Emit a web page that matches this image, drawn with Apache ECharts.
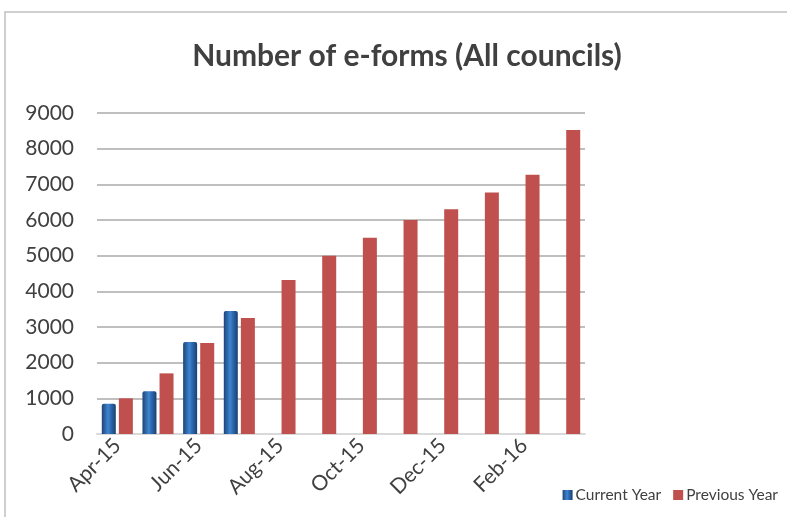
<!DOCTYPE html>
<html>
<head>
<meta charset="utf-8">
<script src="https://cdn.jsdelivr.net/npm/echarts@6/dist/echarts.min.js"></script>
<style>html,body{margin:0;padding:0;background:#fff}#c{width:787px;height:517px}</style>
</head>
<body>
<div id="c"></div>
<script>
const categories = ['Apr-15','May-15','Jun-15','Jul-15','Aug-15','Sep-15','Oct-15','Nov-15','Dec-15','Jan-16','Feb-16','Mar-16'];
const currentYear = [850, 1200, 2580, 3450, null, null, null, null, null, null, null, null];
const previousYear = [1000, 1700, 2550, 3250, 4320, 5000, 5500, 6000, 6300, 6770, 7270, 8520];
const yTicks = [0, 1000, 2000, 3000, 4000, 5000, 6000, 7000, 8000, 9000];

const FONT = 'Lato';
const chart = echarts.init(document.getElementById('c'));
chart.setOption({
  animation: false,
  textStyle: { fontFamily: FONT },
  title: {
    text: 'Number of e-forms (All councils)',
    left: 402, textAlign: 'center', top: 36,
    textStyle: { fontFamily: FONT, fontWeight: 'bold', fontSize: 30, color: '#404040' }
  },
  graphic: [{
    type: 'polyline', silent: true,
    shape: { points: [[5, 600], [5, 12], [900, 12]] },
    style: { stroke: '#c0c0c0', lineWidth: 1.5, fill: null }
  }],
  legend: {
    right: 4, top: 482, itemWidth: 10, itemHeight: 10, itemGap: 12,
    textStyle: { fontFamily: FONT, fontSize: 15.5, color: '#404040', padding: [0, 0, 0, -2] },
    data: [
      { name: 'Current Year', icon: 'rect' },
      { name: 'Previous Year', icon: 'rect' }
    ]
  },
  grid: { left: 97, right: 202, top: 113, bottom: 83 },
  xAxis: {
    type: 'category', data: categories,
    axisLine: { lineStyle: { color: '#d9d9d9', width: 2 } },
    axisTick: { show: false },
    axisLabel: { interval: 1, rotate: 45, fontSize: 21, color: '#404040', fontFamily: FONT, margin: 8 }
  },
  yAxis: {
    type: 'value', min: yTicks[0], max: yTicks[yTicks.length - 1], interval: 1000,
    axisLine: { show: false }, axisTick: { show: false },
    axisLabel: { fontSize: 21, color: '#404040', fontFamily: FONT, margin: 23, formatter: v => String(v) },
    splitLine: { lineStyle: { color: '#bfbfbf', width: 2 } }
  },
  series: [
    {
      name: 'Current Year', type: 'bar', data: currentYear, barWidth: 14, barGap: '22%',
      itemStyle: {
        color: new echarts.graphic.LinearGradient(0, 0, 1, 0, [
          { offset: 0, color: '#1d4478' },
          { offset: 0.45, color: '#3f86d0' },
          { offset: 0.6, color: '#2f6fb8' },
          { offset: 1, color: '#1a3f70' }
        ]),
        borderRadius: [2, 2, 0, 0]
      }
    },
    {
      name: 'Previous Year', type: 'bar', data: previousYear, barWidth: 14,
      itemStyle: { color: '#c0504d' }
    }
  ]
});
</script>
</body>
</html>
